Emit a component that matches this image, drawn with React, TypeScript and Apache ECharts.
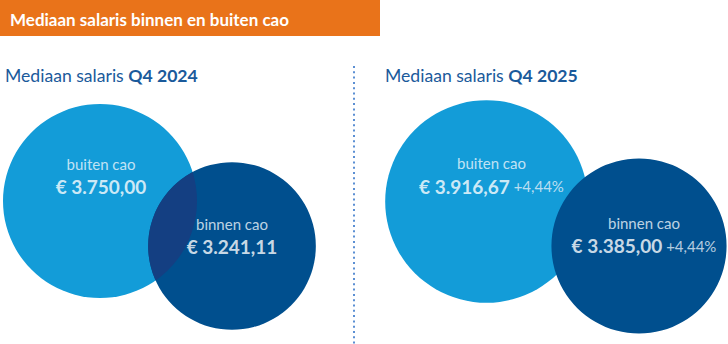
import React, { useEffect, useRef } from 'react';
import * as echarts from 'echarts';

// ---- data ----
const chartTitle = 'Mediaan salaris binnen en buiten cao';
const periods = ['Q4 2024', 'Q4 2025'];
const groupNames = ['buiten cao', 'binnen cao'];
const buitenCao = [3750.0, 3916.67];
const binnenCao = [3241.11, 3385.0];

// ---- layout / style ----
const W = 728;
const H = 344;
const RADIUS_PER_EURO = 97 / 3750;
const buitenPos = [[100, 201], [486.5, 201.5]];
const binnenPos = [[232, 246], [639, 246]];
const subtitleX = [5, 385];
const buitenLabelOffset = [[1, -26], [5, -27]];
const binnenLabelOffset = [[0, -11], [5, -12]];

const FONT = 'Lato, "Noto Sans", sans-serif';
const ORANGE = '#e9731a';
const LIGHT = '#139cd8';
const DARK = '#004f8e';
const LENS = '#143f82';
const NAVY_TEXT = '#1a5a9b';

function euro(v: number): string {
  const [i, f] = v.toFixed(2).split('.');
  return '€ ' + i.replace(/\B(?=(\d{3})+(?!\d))/g, '.') + ',' + f;
}
function growth(cur: number, prev: number): string {
  return '+' + ((cur / prev - 1) * 100).toFixed(2).replace('.', ',') + '%';
}

export default function App() {
  const ref = useRef<HTMLDivElement>(null);
  useEffect(() => {
    document.body.style.margin = '0';
    if (!ref.current) return;
    const chart = echarts.init(ref.current, undefined, { renderer: 'svg' });

    const labelItems: any[] = [];
    [buitenCao, binnenCao].forEach((arr, g) => {
      arr.forEach((v, i) => {
        const pos = g === 0 ? buitenPos[i] : binnenPos[i];
        const off = g === 0 ? buitenLabelOffset[i] : binnenLabelOffset[i];
        const gr = i > 0 ? '{p| ' + growth(v, arr[i - 1]) + '}' : '';
        labelItems.push({
          value: [pos[0], pos[1]],
          label: {
            offset: off,
            formatter: '{n|' + groupNames[g] + '}\n{v|' + euro(v) + '}' + gr,
          },
        });
      });
    });

    const sizeFn = (d: number[]) => d[2] * RADIUS_PER_EURO * 2;
    const noBorder = { textBorderWidth: 0, textBorderColor: 'transparent', textShadowBlur: 0 };

    chart.setOption({
      animation: false,
      grid: { left: 0, right: 0, top: 0, bottom: 0 },
      xAxis: { type: 'value', min: 0, max: W, show: false },
      yAxis: { type: 'value', min: 0, max: H, inverse: true, show: false },
      title: periods.map((p, i) => ({
        left: subtitleX[i],
        top: 66,
        padding: 0,
        text: '{a|Mediaan salaris }{b|' + p + '}',
        textStyle: {
          fontWeight: 'normal',
          rich: {
            a: { fontFamily: FONT, fontSize: 17.6, fontWeight: 'normal', color: NAVY_TEXT },
            b: { fontFamily: FONT, fontSize: 17.6, fontWeight: 'bold', color: NAVY_TEXT },
          },
        },
      })),
      graphic: [
        { type: 'rect', left: 0, top: 0, shape: { width: 380, height: 36 }, style: { fill: ORANGE }, silent: true },
        {
          type: 'text',
          x: 10,
          y: 19,
          style: {
            text: chartTitle,
            fill: '#ffffff',
            font: 'bold 17px ' + FONT,
            verticalAlign: 'middle',
          },
          silent: true,
        },
        {
          type: 'line',
          shape: { x1: 354, y1: 66, x2: 354, y2: 344 },
          style: { stroke: '#5b8fd3', lineWidth: 2, lineDash: [2, 3.3] },
          silent: true,
        },
      ],
      series: [
        {
          type: 'scatter',
          name: groupNames[0],
          z: 1,
          silent: true,
          symbolSize: sizeFn,
          itemStyle: { color: LIGHT, opacity: 1 },
          data: buitenCao.map((v, i) => [buitenPos[i][0], buitenPos[i][1], v]),
        },
        {
          type: 'scatter',
          name: groupNames[1],
          z: 2,
          silent: true,
          symbolSize: sizeFn,
          itemStyle: { color: DARK, opacity: 1 },
          data: binnenCao.map((v, i) => [binnenPos[i][0], binnenPos[i][1], v]),
        },
        {
          type: 'custom',
          z: 3,
          silent: true,
          data: [[buitenPos[0][0], buitenPos[0][1], buitenCao[0], binnenPos[0][0], binnenPos[0][1], binnenCao[0]]],
          renderItem: (params: any, api: any) => {
            const c1 = api.coord([api.value(0), api.value(1)]);
            const c2 = api.coord([api.value(3), api.value(4)]);
            const r1 = api.value(2) * RADIUS_PER_EURO;
            const r2 = api.value(5) * RADIUS_PER_EURO;
            const dx = c2[0] - c1[0];
            const dy = c2[1] - c1[1];
            const d = Math.sqrt(dx * dx + dy * dy);
            const a = (r1 * r1 - r2 * r2 + d * d) / (2 * d);
            const h = Math.sqrt(Math.max(0, r1 * r1 - a * a));
            const px = c1[0] + (a * dx) / d;
            const py = c1[1] + (a * dy) / d;
            const nx = -dy / d;
            const ny = dx / d;
            const i1 = [px + h * nx, py + h * ny];
            const i2 = [px - h * nx, py - h * ny];
            const pathData =
              `M${i1[0]},${i1[1]} A${r1},${r1} 0 0 0 ${i2[0]},${i2[1]} ` +
              `A${r2},${r2} 0 0 0 ${i1[0]},${i1[1]} Z`;
            return { type: 'path', shape: { pathData }, style: { fill: LENS } };
          },
        },
        {
          type: 'scatter',
          z: 4,
          silent: true,
          symbolSize: 1,
          itemStyle: { color: 'rgba(0,0,0,0)' },
          label: {
            show: true,
            position: 'inside',
            align: 'center',
            verticalAlign: 'middle',
            color: '#ffffff',
            ...noBorder,
            rich: {
              n: { fontFamily: FONT, fontSize: 15, color: '#eef6fc', lineHeight: 23, ...noBorder },
              v: { fontFamily: FONT, fontSize: 19, fontWeight: 'bold', color: '#ffffff', lineHeight: 23, ...noBorder },
              p: { fontFamily: FONT, fontSize: 15, color: '#e6f0f8', lineHeight: 23, ...noBorder },
            },
          },
          data: labelItems,
        },
      ],
    });
    return () => chart.dispose();
  }, []);
  return <div ref={ref} style={{ width: W, height: H }} />;
}
